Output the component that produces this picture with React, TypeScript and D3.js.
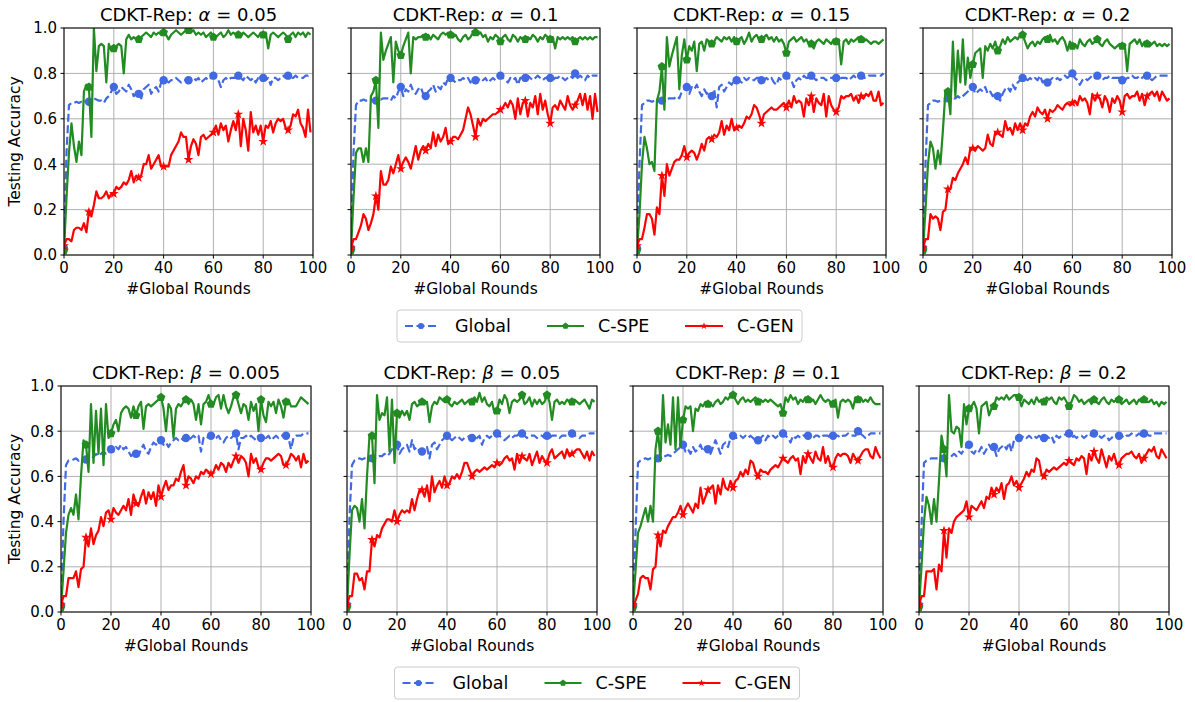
import React from "react";
import * as d3 from "d3";

const xTicks = [0, 20, 40, 60, 80, 100];
const yTicks = [0, 0.2, 0.4, 0.6, 0.8, 1.0];

// ---- alpha = 0.05
const globalA005 = [0.03,0.45,0.66,0.67,0.67,0.675,0.67,0.675,0.67,0.68,0.675,0.68,0.69,0.685,0.68,0.68,0.67,0.69,0.70,0.72,0.74,0.71,0.72,0.74,0.73,0.72,0.75,0.73,0.70,0.71,0.71,0.69,0.73,0.74,0.75,0.71,0.73,0.74,0.72,0.76,0.77,0.77,0.76,0.77,0.77,0.78,0.77,0.76,0.77,0.77,0.77,0.77,0.78,0.77,0.78,0.76,0.77,0.78,0.77,0.78,0.79,0.78,0.77,0.74,0.77,0.78,0.77,0.78,0.78,0.78,0.79,0.78,0.77,0.79,0.78,0.77,0.78,0.76,0.78,0.78,0.78,0.77,0.78,0.75,0.78,0.78,0.77,0.78,0.79,0.78,0.79,0.78,0.78,0.79,0.78,0.78,0.78,0.79,0.79,0.80];
const speA005 = [0.02,0.25,0.45,0.58,0.48,0.41,0.50,0.44,0.72,0.75,0.74,0.52,1.0,0.81,0.92,0.93,0.92,0.76,0.93,0.90,0.91,0.92,0.93,0.92,0.80,0.95,0.97,0.95,0.96,0.95,0.95,0.96,0.97,0.98,0.97,0.96,0.98,0.97,0.98,0.97,0.98,0.97,0.95,0.97,0.98,0.99,0.98,0.97,0.98,0.99,0.99,0.98,0.99,0.97,0.98,0.97,0.98,0.96,0.97,0.98,0.96,0.96,0.97,0.98,0.96,0.97,0.99,0.97,0.98,0.97,0.97,0.96,0.98,0.97,0.96,0.97,0.98,0.97,0.96,0.98,0.97,0.98,0.91,0.97,0.98,0.97,0.96,0.97,0.98,0.97,0.95,0.97,0.98,0.96,0.98,0.97,0.98,0.96,0.98,0.97];
const genA005 = [0.04,0.07,0.07,0.06,0.11,0.12,0.12,0.11,0.14,0.10,0.19,0.17,0.22,0.28,0.25,0.25,0.26,0.28,0.25,0.27,0.27,0.30,0.29,0.30,0.32,0.31,0.33,0.37,0.32,0.35,0.34,0.35,0.40,0.40,0.44,0.38,0.40,0.42,0.44,0.39,0.39,0.39,0.39,0.44,0.46,0.48,0.50,0.54,0.52,0.52,0.42,0.48,0.51,0.49,0.44,0.52,0.53,0.51,0.52,0.53,0.54,0.57,0.53,0.58,0.55,0.57,0.50,0.55,0.59,0.55,0.62,0.48,0.60,0.55,0.46,0.63,0.54,0.57,0.53,0.57,0.50,0.57,0.56,0.59,0.54,0.58,0.60,0.59,0.60,0.56,0.55,0.57,0.62,0.61,0.64,0.58,0.56,0.52,0.64,0.54];

// ---- alpha = 0.1
const globalA01 = [0.03,0.45,0.66,0.68,0.68,0.685,0.68,0.68,0.685,0.68,0.68,0.69,0.685,0.69,0.69,0.69,0.68,0.70,0.69,0.72,0.74,0.70,0.73,0.72,0.75,0.72,0.71,0.73,0.74,0.71,0.70,0.72,0.73,0.75,0.72,0.74,0.73,0.76,0.75,0.78,0.78,0.77,0.76,0.77,0.77,0.78,0.77,0.78,0.76,0.78,0.77,0.77,0.78,0.77,0.78,0.76,0.77,0.78,0.77,0.78,0.79,0.78,0.77,0.76,0.78,0.77,0.78,0.75,0.78,0.78,0.78,0.79,0.78,0.77,0.78,0.79,0.78,0.77,0.78,0.78,0.78,0.77,0.78,0.78,0.79,0.78,0.77,0.78,0.79,0.78,0.80,0.78,0.79,0.78,0.77,0.79,0.78,0.79,0.79,0.79];
const speA01 = [0.02,0.25,0.45,0.47,0.47,0.41,0.47,0.41,0.70,0.72,0.77,0.56,0.98,0.86,0.90,0.93,0.96,0.76,0.94,0.90,0.88,0.92,0.95,0.98,0.80,0.96,0.95,0.96,0.96,0.97,0.96,0.97,0.95,0.97,0.96,0.95,0.97,0.98,0.97,0.98,0.97,0.96,0.97,0.95,0.94,0.96,0.97,0.95,0.96,0.98,0.98,0.97,0.98,0.96,0.97,0.94,0.96,0.95,0.97,0.96,0.94,0.96,0.97,0.95,0.94,0.97,0.96,0.94,0.96,0.95,0.95,0.96,0.95,0.97,0.96,0.94,0.96,0.95,0.97,0.96,0.95,0.96,0.91,0.96,0.95,0.96,0.95,0.96,0.95,0.96,0.94,0.95,0.96,0.95,0.96,0.95,0.96,0.95,0.96,0.96];
const genA01 = [0.03,0.07,0.07,0.10,0.13,0.18,0.16,0.11,0.14,0.18,0.26,0.20,0.37,0.31,0.31,0.33,0.39,0.36,0.40,0.44,0.38,0.41,0.43,0.41,0.38,0.43,0.48,0.42,0.46,0.48,0.46,0.49,0.47,0.54,0.48,0.53,0.50,0.52,0.56,0.49,0.50,0.52,0.52,0.51,0.53,0.55,0.60,0.65,0.62,0.57,0.52,0.60,0.57,0.60,0.59,0.60,0.61,0.62,0.62,0.63,0.64,0.65,0.67,0.65,0.68,0.66,0.60,0.69,0.62,0.67,0.68,0.61,0.67,0.65,0.70,0.62,0.71,0.64,0.68,0.62,0.58,0.65,0.66,0.64,0.68,0.66,0.64,0.70,0.66,0.64,0.66,0.68,0.71,0.66,0.71,0.64,0.70,0.60,0.71,0.63];

// ---- alpha = 0.15
const globalA015 = [0.03,0.40,0.66,0.67,0.68,0.68,0.675,0.68,0.68,0.68,0.68,0.69,0.685,0.69,0.69,0.69,0.70,0.69,0.72,0.73,0.74,0.71,0.74,0.73,0.75,0.72,0.70,0.73,0.71,0.72,0.70,0.73,0.65,0.74,0.75,0.72,0.74,0.76,0.75,0.77,0.77,0.77,0.76,0.78,0.77,0.78,0.77,0.77,0.78,0.78,0.77,0.77,0.78,0.77,0.78,0.76,0.75,0.78,0.77,0.78,0.79,0.78,0.77,0.74,0.77,0.78,0.77,0.79,0.78,0.78,0.79,0.78,0.77,0.78,0.78,0.78,0.77,0.78,0.78,0.78,0.78,0.77,0.78,0.78,0.78,0.77,0.78,0.79,0.78,0.78,0.79,0.78,0.78,0.79,0.79,0.79,0.79,0.79,0.79,0.80];
const speA015 = [0.02,0.18,0.40,0.52,0.47,0.40,0.41,0.37,0.68,0.72,0.83,0.64,0.96,0.83,0.88,0.92,0.96,0.73,0.88,0.95,0.86,0.92,0.90,0.94,0.81,0.93,0.94,0.90,0.95,0.94,0.93,0.94,0.96,0.95,0.94,0.96,0.95,0.96,0.94,0.96,0.94,0.95,0.96,0.93,0.95,0.98,0.94,0.96,0.97,0.95,0.95,0.96,0.97,0.95,0.96,0.94,0.96,0.94,0.95,0.93,0.89,0.94,0.95,0.96,0.94,0.95,0.96,0.94,0.95,0.93,0.93,0.91,0.94,0.95,0.94,0.93,0.95,0.94,0.93,0.95,0.94,0.95,0.84,0.94,0.95,0.93,0.95,0.94,0.95,0.96,0.95,0.94,0.95,0.94,0.93,0.94,0.94,0.93,0.94,0.95];
const genA015 = [0.04,0.07,0.07,0.12,0.18,0.18,0.16,0.09,0.21,0.18,0.35,0.26,0.40,0.35,0.38,0.41,0.42,0.42,0.44,0.48,0.43,0.45,0.46,0.45,0.42,0.45,0.49,0.46,0.51,0.52,0.51,0.53,0.52,0.54,0.59,0.53,0.57,0.55,0.60,0.55,0.56,0.57,0.56,0.58,0.61,0.60,0.62,0.66,0.65,0.62,0.58,0.62,0.63,0.64,0.65,0.64,0.64,0.65,0.66,0.67,0.65,0.68,0.65,0.70,0.67,0.68,0.67,0.61,0.69,0.66,0.70,0.63,0.69,0.67,0.66,0.71,0.61,0.70,0.66,0.64,0.63,0.65,0.70,0.69,0.70,0.70,0.71,0.68,0.70,0.67,0.70,0.69,0.71,0.70,0.72,0.68,0.68,0.72,0.66,0.67];

// ---- alpha = 0.2
const globalA02 = [0.03,0.40,0.66,0.67,0.68,0.68,0.675,0.68,0.68,0.68,0.69,0.685,0.69,0.69,0.70,0.69,0.70,0.71,0.72,0.73,0.74,0.71,0.72,0.73,0.72,0.74,0.71,0.72,0.70,0.71,0.70,0.68,0.71,0.73,0.74,0.72,0.75,0.73,0.76,0.77,0.78,0.78,0.77,0.78,0.77,0.78,0.77,0.79,0.76,0.77,0.76,0.77,0.78,0.77,0.78,0.77,0.78,0.79,0.78,0.79,0.80,0.78,0.77,0.75,0.77,0.78,0.77,0.78,0.79,0.78,0.79,0.78,0.77,0.78,0.78,0.79,0.78,0.78,0.78,0.78,0.77,0.77,0.78,0.78,0.79,0.78,0.78,0.79,0.78,0.79,0.79,0.78,0.77,0.78,0.79,0.79,0.79,0.79,0.79,0.79];
const speA02 = [0.02,0.20,0.40,0.50,0.47,0.38,0.46,0.40,0.55,0.72,0.72,0.62,0.94,0.70,0.90,0.76,0.95,0.75,0.87,0.78,0.84,0.89,0.90,0.91,0.78,0.92,0.90,0.93,0.91,0.94,0.90,0.92,0.95,0.93,0.96,0.94,0.95,0.96,0.95,0.97,0.97,0.94,0.91,0.93,0.94,0.92,0.94,0.93,0.95,0.96,0.95,0.97,0.94,0.95,0.93,0.95,0.96,0.94,0.90,0.94,0.92,0.93,0.91,0.95,0.93,0.92,0.94,0.95,0.93,0.94,0.95,0.93,0.92,0.94,0.95,0.93,0.92,0.91,0.92,0.93,0.92,0.93,0.81,0.93,0.94,0.95,0.93,0.95,0.92,0.94,0.93,0.92,0.93,0.94,0.92,0.93,0.92,0.93,0.92,0.93];
const genA02 = [0.03,0.07,0.07,0.18,0.16,0.17,0.16,0.11,0.19,0.20,0.29,0.29,0.34,0.33,0.36,0.38,0.40,0.43,0.40,0.47,0.47,0.46,0.48,0.47,0.46,0.47,0.53,0.49,0.48,0.54,0.54,0.53,0.52,0.59,0.55,0.56,0.53,0.58,0.55,0.58,0.55,0.58,0.57,0.61,0.63,0.61,0.65,0.63,0.62,0.64,0.60,0.64,0.63,0.64,0.66,0.65,0.64,0.66,0.67,0.66,0.67,0.68,0.66,0.70,0.68,0.69,0.67,0.62,0.71,0.68,0.70,0.69,0.65,0.70,0.68,0.63,0.69,0.67,0.70,0.68,0.63,0.70,0.71,0.69,0.70,0.70,0.72,0.68,0.71,0.66,0.70,0.71,0.72,0.70,0.72,0.68,0.72,0.70,0.68,0.69];

// ---- beta = 0.005
const globalB0005 = [0.03,0.40,0.65,0.67,0.67,0.675,0.68,0.67,0.68,0.68,0.675,0.68,0.69,0.685,0.70,0.69,0.70,0.71,0.70,0.71,0.72,0.71,0.73,0.72,0.74,0.72,0.73,0.71,0.69,0.70,0.70,0.69,0.72,0.74,0.71,0.70,0.73,0.75,0.74,0.75,0.76,0.74,0.75,0.73,0.75,0.76,0.77,0.76,0.77,0.76,0.77,0.76,0.77,0.78,0.77,0.78,0.71,0.77,0.78,0.77,0.78,0.77,0.77,0.78,0.76,0.75,0.77,0.78,0.77,0.78,0.79,0.72,0.77,0.77,0.78,0.77,0.78,0.77,0.76,0.78,0.77,0.78,0.77,0.78,0.76,0.77,0.78,0.77,0.78,0.78,0.78,0.77,0.72,0.77,0.78,0.78,0.78,0.79,0.79,0.79];
const speB0005 = [0.02,0.18,0.35,0.43,0.46,0.43,0.52,0.41,0.60,0.76,0.74,0.62,0.92,0.66,0.89,0.70,0.90,0.65,0.92,0.77,0.79,0.83,0.85,0.80,0.88,0.90,0.91,0.90,0.86,0.91,0.87,0.91,0.93,0.81,0.91,0.92,0.91,0.92,0.93,0.94,0.95,0.90,0.80,0.92,0.90,0.77,0.90,0.92,0.91,0.93,0.94,0.92,0.94,0.92,0.85,0.92,0.83,0.92,0.93,0.96,0.92,0.92,0.95,0.96,0.90,0.96,0.91,0.88,0.91,0.95,0.96,0.92,0.88,0.92,0.91,0.85,0.93,0.89,0.92,0.80,0.94,0.87,0.84,0.93,0.91,0.93,0.88,0.94,0.91,0.86,0.93,0.94,0.91,0.91,0.91,0.93,0.95,0.94,0.93,0.92];
const genB0005 = [0.03,0.07,0.07,0.15,0.15,0.15,0.18,0.11,0.19,0.20,0.33,0.29,0.37,0.30,0.34,0.36,0.42,0.38,0.44,0.45,0.41,0.46,0.44,0.43,0.45,0.47,0.45,0.50,0.43,0.52,0.48,0.47,0.51,0.54,0.48,0.53,0.50,0.53,0.47,0.56,0.51,0.55,0.58,0.54,0.56,0.56,0.59,0.58,0.62,0.65,0.56,0.60,0.59,0.57,0.60,0.59,0.62,0.61,0.63,0.62,0.61,0.62,0.65,0.63,0.66,0.65,0.62,0.66,0.64,0.67,0.69,0.66,0.69,0.68,0.66,0.60,0.70,0.66,0.68,0.64,0.63,0.66,0.68,0.68,0.67,0.68,0.69,0.70,0.69,0.65,0.65,0.67,0.70,0.69,0.67,0.69,0.64,0.70,0.66,0.67];

// ---- beta = 0.05
const globalB005 = [0.03,0.42,0.65,0.67,0.675,0.68,0.675,0.68,0.675,0.68,0.68,0.69,0.685,0.69,0.69,0.70,0.69,0.70,0.72,0.73,0.74,0.70,0.72,0.73,0.74,0.71,0.76,0.72,0.73,0.71,0.71,0.72,0.73,0.68,0.74,0.75,0.72,0.74,0.76,0.77,0.78,0.77,0.76,0.77,0.78,0.77,0.76,0.77,0.77,0.78,0.77,0.76,0.77,0.78,0.74,0.77,0.78,0.77,0.78,0.78,0.79,0.78,0.77,0.76,0.77,0.78,0.77,0.78,0.78,0.79,0.79,0.78,0.77,0.78,0.78,0.78,0.77,0.78,0.78,0.77,0.78,0.77,0.78,0.78,0.78,0.77,0.78,0.78,0.78,0.78,0.79,0.78,0.78,0.77,0.78,0.78,0.78,0.79,0.79,0.79];
const speB005 = [0.02,0.25,0.45,0.47,0.46,0.40,0.50,0.37,0.60,0.78,0.78,0.57,0.96,0.85,0.88,0.87,0.95,0.71,0.94,0.66,0.88,0.86,0.89,0.87,0.89,0.85,0.92,0.93,0.91,0.92,0.93,0.92,0.93,0.84,0.91,0.93,0.92,0.95,0.94,0.93,0.94,0.92,0.91,0.93,0.92,0.93,0.94,0.92,0.93,0.94,0.93,0.95,0.93,0.97,0.93,0.95,0.92,0.91,0.93,0.88,0.89,0.94,0.92,0.96,0.94,0.88,0.93,0.94,0.93,0.94,0.96,0.92,0.93,0.95,0.91,0.94,0.92,0.94,0.92,0.93,0.96,0.93,0.85,0.93,0.94,0.92,0.93,0.92,0.94,0.93,0.93,0.94,0.93,0.92,0.93,0.94,0.92,0.90,0.94,0.93];
const genB005 = [0.03,0.07,0.07,0.17,0.17,0.14,0.15,0.10,0.18,0.18,0.32,0.29,0.34,0.33,0.37,0.39,0.41,0.41,0.40,0.45,0.40,0.43,0.45,0.44,0.45,0.44,0.50,0.45,0.50,0.54,0.54,0.51,0.56,0.49,0.60,0.53,0.56,0.58,0.55,0.60,0.56,0.57,0.60,0.59,0.61,0.59,0.62,0.66,0.66,0.63,0.60,0.62,0.63,0.62,0.63,0.64,0.63,0.64,0.65,0.64,0.66,0.65,0.66,0.68,0.69,0.67,0.68,0.63,0.70,0.66,0.69,0.68,0.67,0.70,0.65,0.68,0.71,0.66,0.69,0.67,0.66,0.70,0.72,0.68,0.69,0.70,0.71,0.68,0.72,0.69,0.70,0.71,0.72,0.72,0.70,0.68,0.71,0.67,0.71,0.69];

// ---- beta = 0.1
const globalB01 = [0.03,0.35,0.66,0.67,0.675,0.68,0.675,0.68,0.68,0.68,0.68,0.675,0.69,0.69,0.695,0.69,0.70,0.71,0.72,0.73,0.74,0.71,0.72,0.70,0.73,0.71,0.72,0.74,0.71,0.73,0.72,0.70,0.73,0.76,0.73,0.70,0.74,0.75,0.73,0.77,0.78,0.77,0.77,0.78,0.77,0.78,0.77,0.78,0.77,0.76,0.76,0.77,0.78,0.76,0.78,0.77,0.78,0.77,0.78,0.78,0.79,0.78,0.77,0.75,0.78,0.77,0.78,0.77,0.78,0.78,0.78,0.78,0.77,0.78,0.78,0.77,0.78,0.78,0.78,0.77,0.78,0.78,0.78,0.77,0.78,0.78,0.79,0.78,0.78,0.78,0.80,0.79,0.78,0.77,0.78,0.79,0.79,0.79,0.79,0.79];
const speB01 = [0.02,0.18,0.35,0.38,0.42,0.46,0.40,0.47,0.40,0.72,0.80,0.67,0.96,0.75,0.83,0.74,0.95,0.72,0.95,0.73,0.85,0.91,0.90,0.91,0.80,0.90,0.89,0.92,0.91,0.93,0.92,0.92,0.91,0.93,0.94,0.92,0.93,0.95,0.94,0.96,0.96,0.94,0.92,0.94,0.95,0.93,0.94,0.93,0.94,0.95,0.93,0.94,0.93,0.94,0.93,0.94,0.93,0.92,0.91,0.92,0.88,0.95,0.93,0.96,0.94,0.95,0.92,0.94,0.93,0.95,0.94,0.93,0.94,0.92,0.94,0.96,0.94,0.93,0.94,0.93,0.92,0.94,0.86,0.93,0.94,0.93,0.94,0.93,0.90,0.95,0.94,0.95,0.93,0.94,0.93,0.95,0.93,0.92,0.92,0.92];
const genB01 = [0.03,0.05,0.08,0.15,0.16,0.15,0.15,0.10,0.19,0.20,0.34,0.29,0.36,0.35,0.38,0.40,0.42,0.42,0.44,0.47,0.43,0.46,0.48,0.46,0.44,0.48,0.46,0.55,0.48,0.51,0.54,0.55,0.56,0.48,0.56,0.52,0.59,0.55,0.54,0.58,0.55,0.58,0.59,0.62,0.60,0.63,0.61,0.67,0.66,0.62,0.60,0.63,0.62,0.62,0.61,0.63,0.64,0.65,0.64,0.66,0.68,0.67,0.66,0.68,0.69,0.67,0.68,0.61,0.69,0.66,0.70,0.68,0.66,0.71,0.68,0.67,0.73,0.66,0.69,0.65,0.64,0.68,0.70,0.69,0.70,0.70,0.69,0.66,0.70,0.68,0.67,0.69,0.71,0.72,0.72,0.69,0.68,0.73,0.70,0.68];

// ---- beta = 0.2
const globalB02 = [0.03,0.38,0.66,0.67,0.675,0.68,0.68,0.68,0.68,0.685,0.68,0.69,0.685,0.69,0.70,0.69,0.71,0.70,0.72,0.73,0.74,0.71,0.70,0.72,0.71,0.73,0.70,0.72,0.74,0.72,0.73,0.69,0.72,0.73,0.74,0.72,0.75,0.71,0.76,0.77,0.77,0.77,0.78,0.77,0.78,0.77,0.78,0.77,0.78,0.77,0.77,0.78,0.77,0.78,0.75,0.78,0.77,0.78,0.78,0.79,0.79,0.77,0.78,0.77,0.78,0.78,0.77,0.78,0.79,0.78,0.79,0.78,0.78,0.77,0.78,0.78,0.76,0.77,0.78,0.78,0.78,0.78,0.77,0.78,0.78,0.79,0.78,0.78,0.79,0.78,0.79,0.79,0.78,0.78,0.79,0.79,0.79,0.79,0.79,0.79];
const speB02 = [0.02,0.20,0.40,0.51,0.47,0.39,0.50,0.40,0.58,0.78,0.72,0.60,0.96,0.80,0.79,0.82,0.81,0.73,0.92,0.83,0.90,0.91,0.93,0.90,0.79,0.91,0.92,0.93,0.87,0.90,0.91,0.95,0.94,0.95,0.94,0.96,0.94,0.95,0.96,0.96,0.95,0.91,0.94,0.93,0.92,0.94,0.92,0.95,0.93,0.94,0.93,0.95,0.94,0.95,0.93,0.92,0.95,0.94,0.95,0.93,0.91,0.93,0.96,0.95,0.93,0.94,0.92,0.93,0.94,0.92,0.94,0.93,0.92,0.94,0.95,0.93,0.92,0.94,0.93,0.94,0.94,0.92,0.93,0.94,0.92,0.93,0.94,0.92,0.94,0.93,0.94,0.93,0.93,0.94,0.92,0.93,0.91,0.93,0.92,0.93];
const genB02 = [0.03,0.07,0.07,0.18,0.18,0.18,0.19,0.10,0.21,0.18,0.36,0.24,0.37,0.35,0.40,0.42,0.43,0.44,0.45,0.49,0.42,0.47,0.46,0.45,0.47,0.49,0.46,0.51,0.50,0.55,0.52,0.55,0.53,0.57,0.50,0.56,0.57,0.60,0.56,0.58,0.55,0.57,0.59,0.62,0.60,0.63,0.62,0.68,0.67,0.61,0.60,0.63,0.62,0.63,0.64,0.63,0.64,0.65,0.66,0.65,0.67,0.66,0.65,0.68,0.67,0.69,0.68,0.61,0.70,0.67,0.71,0.68,0.66,0.72,0.68,0.64,0.69,0.67,0.70,0.66,0.65,0.68,0.69,0.70,0.70,0.71,0.69,0.68,0.70,0.66,0.68,0.70,0.72,0.71,0.73,0.69,0.68,0.72,0.70,0.68];

const rows = [
  {
    symbol: "α",
    values: ["0.05", "0.1", "0.15", "0.2"],
    data: [
      [globalA005, speA005, genA005],
      [globalA01, speA01, genA01],
      [globalA015, speA015, genA015],
      [globalA02, speA02, genA02],
    ],
  },
  {
    symbol: "β",
    values: ["0.005", "0.05", "0.1", "0.2"],
    data: [
      [globalB0005, speB0005, genB0005],
      [globalB005, speB005, genB005],
      [globalB01, speB01, genB01],
      [globalB02, speB02, genB02],
    ],
  },
];

const seriesNames = ["Global", "C-SPE", "C-GEN"];

// layout
const FONT = "DejaVu Sans, sans-serif";
const rowLayout = [
  { top: 28, bottom: 255, lefts: [64, 351, 637, 923], width: 249, legendCx: 599.5 },
  { top: 386, bottom: 612, lefts: [61, 347, 633, 919], width: 250, legendCx: 597 },
];

const symbolPentagon = {
  draw(ctx: any, size: number) {
    const r = Math.sqrt(size / 2.378);
    for (let i = 0; i < 5; i++) {
      const a = -Math.PI / 2 + (i * 2 * Math.PI) / 5;
      const x = r * Math.cos(a), y = r * Math.sin(a);
      if (i === 0) ctx.moveTo(x, y);
      else ctx.lineTo(x, y);
    }
    ctx.closePath();
  },
};

const styles = [
  { color: "#4169e1", dash: "8,3.5", sym: d3.symbolCircle, size: 55 },
  { color: "#228b22", dash: null, sym: symbolPentagon, size: 50 },
  { color: "#ff0000", dash: null, sym: d3.symbolStar, size: 30 },
];

function Panel({ left, top, bottom, width, showY, series, symbol, value, id }: any) {
  const x = d3.scaleLinear().domain([0, 100]).range([left, left + width]);
  const y = d3.scaleLinear().domain([0, 1]).range([bottom, top]);
  const line = d3.line<number>().x((_, i) => x(i)).y((d) => y(d));
  const cx = left + width / 2;
  return (
    <g>
      <defs>
        <clipPath id={id}>
          <rect x={left} y={top} width={width} height={bottom - top} />
        </clipPath>
      </defs>
      {xTicks.map((t) => (
        <line key={"gx" + t} x1={x(t)} x2={x(t)} y1={top} y2={bottom} stroke="#b0b0b0" strokeWidth={1} />
      ))}
      {yTicks.map((t) => (
        <line key={"gy" + t} x1={left} x2={left + width} y1={y(t)} y2={y(t)} stroke="#b0b0b0" strokeWidth={1} />
      ))}
      <g clipPath={`url(#${id})`}>
        {series.map((s: number[], k: number) => (
          <g key={k}>
            <path d={line(s) || ""} fill="none" stroke={styles[k].color} strokeWidth={2.2}
              strokeDasharray={styles[k].dash || undefined} strokeLinejoin="round" />
            {s.map((v, i) =>
              i % 10 === 0 ? (
                <path key={i} transform={`translate(${x(i)},${y(v)})`}
                  d={d3.symbol().type(styles[k].sym as any).size(styles[k].size)() || ""}
                  fill={styles[k].color} />
              ) : null
            )}
          </g>
        ))}
      </g>
      <rect x={left} y={top} width={width} height={bottom - top} fill="none" stroke="#000" strokeWidth={1} />
      {xTicks.map((t) => (
        <g key={"tx" + t}>
          <line x1={x(t)} x2={x(t)} y1={bottom} y2={bottom + 3.5} stroke="#000" />
          <text x={x(t)} y={bottom + 18} textAnchor="middle" fontSize={15} fontFamily={FONT}>{t}</text>
        </g>
      ))}
      {yTicks.map((t) => (
        <g key={"ty" + t}>
          <line x1={left - 3.5} x2={left} y1={y(t)} y2={y(t)} stroke="#000" />
          {showY && (
            <text x={left - 7} y={y(t)} dy="0.36em" textAnchor="end" fontSize={15} fontFamily={FONT}>
              {t.toFixed(1)}
            </text>
          )}
        </g>
      ))}
      <text x={cx} y={bottom + 39} textAnchor="middle" fontSize={15.5} fontFamily={FONT}>#Global Rounds</text>
      <text x={cx} y={top - 7} textAnchor="middle" fontSize={18} fontFamily={FONT}>
        CDKT-Rep: <tspan fontStyle="italic">{symbol}</tspan> = {value}
      </text>
      {showY && (
        <text transform={`translate(20,${(top + bottom) / 2}) rotate(-90)`} textAnchor="middle"
          fontSize={15.5} fontFamily={FONT}>Testing Accuracy</text>
      )}
    </g>
  );
}

function Legend({ cx, top }: any) {
  const w = 405, h = 32;
  const left = cx - w / 2;
  const items = [
    { l0: 8, l1: 40, t: 58 },
    { l0: 150, l1: 187, t: 201 },
    { l0: 288, l1: 326, t: 340 },
  ];
  const my = top + h / 2;
  return (
    <g>
      <rect x={left} y={top} width={w} height={h} rx={3} fill="#fff" stroke="#cccccc" strokeWidth={1} />
      {items.map((it, k) => (
        <g key={k}>
          <line x1={left + it.l0} x2={left + it.l1} y1={my} y2={my} stroke={styles[k].color} strokeWidth={2.2}
            strokeDasharray={styles[k].dash || undefined} />
          <path transform={`translate(${left + (it.l0 + it.l1) / 2},${my})`}
            d={d3.symbol().type(styles[k].sym as any).size(styles[k].size * 0.55)() || ""} fill={styles[k].color} />
          <text x={left + it.t} y={my} dy="0.36em" fontSize={17.5} fontFamily={FONT}>{seriesNames[k]}</text>
        </g>
      ))}
    </g>
  );
}

export default function App() {
  return (
    <svg width={1195} height={702} style={{ position: "absolute", left: 0, top: 0, background: "#fff" }}>
      {rows.map((row, r) => {
        const lay = rowLayout[r];
        return (
          <g key={r}>
            {row.data.map((series, p) => (
              <Panel key={p} id={`clip-${r}-${p}`} left={lay.lefts[p]} top={lay.top} bottom={lay.bottom}
                width={lay.width} showY={p === 0} series={series} symbol={row.symbol} value={row.values[p]} />
            ))}
            <Legend cx={lay.legendCx} top={lay.bottom + 55} />
          </g>
        );
      })}
    </svg>
  );
}
